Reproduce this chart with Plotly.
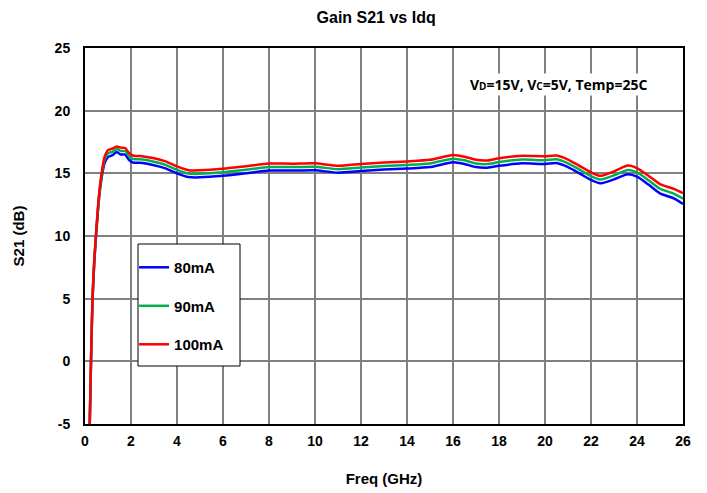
import plotly.graph_objects as go

freq = [0.2, 0.24, 0.28, 0.33, 0.4, 0.48, 0.6, 0.72, 0.85, 1.0, 1.2, 1.38, 1.55, 1.75, 1.9,
        2.1, 2.4, 3.0, 3.5, 4.0, 4.5, 5.0, 6.0, 7.0, 8.0, 9.0, 10.0, 11.0, 12.0, 13.0,
        14.0, 15.0, 16.0, 16.5, 17.0, 17.5, 18.0, 19.0, 20.0, 20.5, 21.0, 21.5, 22.0, 22.4,
        23.0, 23.6, 24.0, 24.5, 25.0, 25.6, 26.0]

s21_80 = [-5.5, -2.0, 1.5, 5.0, 7.8, 10.0, 12.8, 14.6, 15.8, 16.3, 16.45, 16.7, 16.5, 16.5, 16.1,
          15.85, 15.85, 15.65, 15.4, 15.0, 14.7, 14.68, 14.8, 15.0, 15.22, 15.22, 15.25, 15.05, 15.18, 15.3,
          15.38, 15.5, 15.88, 15.75, 15.5, 15.45, 15.6, 15.8, 15.75, 15.82, 15.5, 15.0, 14.47, 14.2,
          14.52, 14.92, 14.73, 14.1, 13.4, 13.0, 12.55]

s21_90 = [-5.5, -1.9, 1.6, 5.1, 7.9, 10.1, 12.95, 14.8, 16.05, 16.6, 16.72, 16.95, 16.78, 16.78, 16.38,
          16.13, 16.12, 15.93, 15.68, 15.28, 14.98, 14.96, 15.08, 15.29, 15.5, 15.5, 15.53, 15.33, 15.46, 15.58,
          15.67, 15.79, 16.17, 16.04, 15.79, 15.74, 15.9, 16.1, 16.05, 16.12, 15.8, 15.3, 14.77, 14.5,
          14.84, 15.26, 15.07, 14.45, 13.77, 13.38, 12.98]

s21_100 = [-5.5, -1.8, 1.7, 5.2, 8.0, 10.2, 13.1, 15.0, 16.3, 16.85, 16.98, 17.15, 17.05, 17.02, 16.65,
           16.4, 16.38, 16.2, 15.95, 15.55, 15.25, 15.24, 15.36, 15.57, 15.78, 15.77, 15.8, 15.6, 15.74, 15.86,
           15.95, 16.08, 16.46, 16.33, 16.08, 16.03, 16.2, 16.4, 16.36, 16.42, 16.1, 15.6, 15.08, 14.8,
           15.16, 15.62, 15.42, 14.8, 14.14, 13.76, 13.42]

names = ["80mA", "90mA", "100mA"]
colors = ["#0000FF", "#00B050", "#FF0000"]

x_ticks = [0, 2, 4, 6, 8, 10, 12, 14, 16, 18, 20, 22, 24, 26]
x_ticklabels = ["0", "2", "4", "6", "8", "10", "12", "14", "16", "18", "20", "22", "24", "26"]
y_ticks = [-5, 0, 5, 10, 15, 20, 25]
y_ticklabels = ["-5", "0", "5", "10", "15", "20", "25"]

fig = go.Figure()
for name, ys, c in zip(names, [s21_80, s21_90, s21_100], colors):
    fig.add_trace(go.Scatter(x=freq, y=ys, mode="lines", name=name, legendgroup=name,
                             line=dict(color=c, width=2.5, shape="spline", smoothing=0.6)))

fig.update_layout(
    width=707, height=493,
    margin=dict(l=85, r=24, t=48, b=69),
    paper_bgcolor="white", plot_bgcolor="white",
    font=dict(family="Arial", color="black"),
    title=dict(text="<b>Gain S21 vs Idq</b>", x=0.532, xanchor="center", y=0.965, yanchor="middle",
               font=dict(size=16, family="Arial", color="black")),
    showlegend=True,
    legend=dict(x=0.082, y=0.46, xanchor="left", yanchor="top",
                bgcolor="rgba(0,0,0,0)", borderwidth=0,
                font=dict(size=15, family="Arial", color="black", weight="bold"),
                tracegroupgap=16, traceorder="grouped"),
)
# legend frame
fig.add_shape(type="rect", xref="paper", yref="paper",
              x0=(138 - 85) / 598, x1=(240 - 85) / 598,
              y0=(424 - 366) / 376, y1=(424 - 244) / 376,
              line=dict(color="black", width=1), fillcolor="white", layer="above")

fig.update_xaxes(range=[0, 26], tickvals=x_ticks, ticktext=x_ticklabels, automargin=False,
                 showgrid=True, gridcolor="#808080", gridwidth=1.5,
                 showline=True, linecolor="black", linewidth=2, mirror=True, ticks="",
                 ticklabelstandoff=3,
                 tickfont=dict(size=14, family="Arial", color="black", weight="bold"),
                 title=dict(text="<b>Freq (GHz)</b>", font=dict(size=15, family="Arial"), standoff=26),
                 zeroline=False)
fig.update_yaxes(range=[-5, 25], tickvals=y_ticks, ticktext=y_ticklabels, automargin=False,
                 showgrid=True, gridcolor="#808080", gridwidth=1.5,
                 showline=True, linecolor="black", linewidth=2, mirror=True, ticks="",
                 ticklabelstandoff=10,
                 tickfont=dict(size=14, family="Arial", color="black", weight="bold"),
                 title=dict(text="<b>S21 (dB)</b>", font=dict(size=15, family="Arial"), standoff=26),
                 zeroline=False)

fig.add_annotation(x=0.64, y=0.934, xref="paper", yref="paper", xanchor="left", showarrow=False,
                   text="<b>V<span style='font-size:10px'>D</span>=15V, V<span style='font-size:10px'>C</span>=5V, Temp=25C</b>",
                   font=dict(size=14, family="Open Sans", color="black"), bgcolor="white")

fig.write_html("out.html")
